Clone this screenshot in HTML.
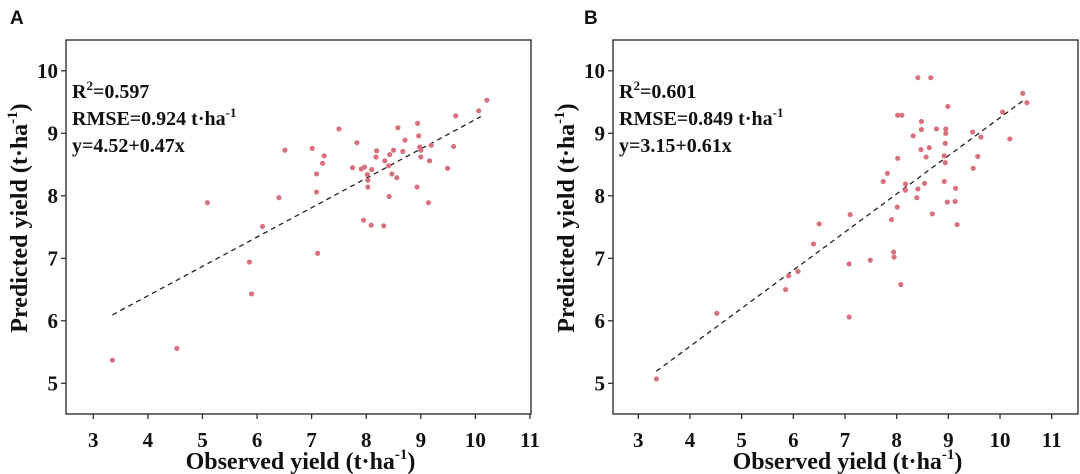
<!DOCTYPE html>
<html><head><meta charset="utf-8"><style>
html,body{margin:0;padding:0;background:#fff;}
svg{display:block;}
text{font-family:"Liberation Serif",serif;font-weight:bold;fill:#111;}
</style></head><body>
<svg id="chart" width="1080" height="474" viewBox="0 0 1080 474" xmlns="http://www.w3.org/2000/svg"></svg>
<script>
const xTicks=[3,4,5,6,7,8,9,10,11];
const yTicks=[5,6,7,8,9,10];
const obsA=[10.21,10.06,9.64,8.94,8.58,7.50,8.96,8.71,7.83,9.19,9.60,8.98,9.0,6.51,7.01,8.19,8.50,8.67,8.43,7.23,8.18,9.0,8.34,9.16,7.20,8.41,7.75,7.97,7.91,8.10,9.49,8.47,7.09,8.02,8.56,8.03,8.03,8.93,7.09,6.40,8.42,5.09,9.14,7.95,8.09,8.32,6.10,7.11,5.86,5.90,4.53,3.35];
const predA=[9.53,9.36,9.28,9.16,9.09,9.07,8.96,8.89,8.85,8.81,8.79,8.78,8.73,8.73,8.76,8.72,8.73,8.71,8.66,8.64,8.62,8.62,8.56,8.56,8.52,8.48,8.45,8.46,8.43,8.42,8.44,8.35,8.35,8.34,8.29,8.25,8.14,8.14,8.06,7.97,7.99,7.89,7.89,7.61,7.53,7.52,7.51,7.08,6.94,6.43,5.56,5.37];
const obsB=[8.41,8.66,10.44,10.52,8.99,10.05,8.02,8.10,8.48,8.77,8.48,8.95,8.95,9.47,8.32,9.63,10.19,8.94,8.47,8.63,8.57,8.02,9.57,8.92,8.94,9.48,7.82,7.74,8.92,8.17,8.54,8.41,9.14,8.17,8.39,8.98,9.13,8.01,7.10,8.69,7.90,6.50,9.17,6.39,7.94,7.95,7.49,7.08,5.91,6.09,5.85,8.08,4.52,7.08,3.35];
const predB=[9.89,9.89,9.64,9.49,9.43,9.34,9.29,9.29,9.19,9.07,9.06,9.07,9.0,9.02,8.96,8.94,8.91,8.84,8.74,8.77,8.62,8.60,8.63,8.64,8.53,8.44,8.36,8.23,8.23,8.19,8.20,8.11,8.12,8.09,7.97,7.90,7.91,7.82,7.70,7.71,7.62,7.55,7.54,7.23,7.10,7.02,6.97,6.91,6.72,6.79,6.50,6.58,6.12,6.06,5.07];
const fitA=[4.52,0.47], fitRangeA=[3.35,10.1];
const fitB=[3.15,0.61], fitRangeB=[3.35,10.5];
const statsA=["0.597","0.924","y=4.52+0.47x"];
const statsB=["0.601","0.849","y=3.15+0.61x"];

const NS="http://www.w3.org/2000/svg";
const svg=document.getElementById('chart');
function mk(tag,attrs,parent,txt){const e=document.createElementNS(NS,tag);for(const k in attrs)e.setAttribute(k,attrs[k]);if(txt!==undefined)e.textContent=txt;(parent||svg).appendChild(e);return e;}

function panel(id,label,L,R,x3,x11,obs,pred,fit,range,stats,labelX,titleX){
  const T=40,B=414;
  const sx=v=>x3+(v-3)*(x11-x3)/8;
  const sy=v=>383.3-(v-5)*62.5;
  const g=mk('g',{});
  
  
  const pl=mk('text',{x:labelX,y:24,'font-size':19,style:'font-family:"Liberation Sans",sans-serif'},g,label);
  
  
  const fr=mk('rect',{x:L,y:T,width:R-L,height:B-T,fill:'none',stroke:'#222','stroke-width':1.3},g);
  
  
  xTicks.forEach(t=>{
    mk('line',{x1:sx(t),x2:sx(t),y1:B,y2:B+5,stroke:'#222','stroke-width':1.2},g);
    const tl=mk('text',{x:sx(t),y:447,'font-size':21,'text-anchor':'middle'},g,String(t));
    
    
  });
  yTicks.forEach(t=>{
    mk('line',{x1:L-5,x2:L,y1:sy(t),y2:sy(t),stroke:'#222','stroke-width':1.2},g);
    const tl=mk('text',{x:L-8,y:sy(t)+7,'font-size':21,'text-anchor':'end'},g,String(t));
    
    
  });
  const xt=mk('text',{x:(L+R)/2+2,y:469,'font-size':24,'text-anchor':'middle'},g);
  xt.innerHTML='Observed yield (t·ha<tspan font-size="15" dy="-10">-1</tspan><tspan dy="10">)</tspan>';
  
  
  const yt=mk('text',{x:0,y:0,'font-size':24,'text-anchor':'middle',transform:`translate(${titleX},218) rotate(-90)`},g);
  yt.innerHTML='Predicted yield (t·ha<tspan font-size="15" dy="-10">-1</tspan><tspan dy="10">)</tspan>';
  
  
  const fl=mk('line',{x1:sx(range[0]),y1:sy(fit[0]+fit[1]*range[0]),x2:sx(range[1]),y2:sy(fit[0]+fit[1]*range[1]),stroke:'#222','stroke-width':1.3,'stroke-dasharray':'5,4'},g);
  
  
  obs.forEach((v,i)=>{
    const c=mk('circle',{cx:sx(v),cy:sy(pred[i]),r:2.6,fill:'#d9707f'},g);
    
    
  });
  const ax=L+6;
  const s1=mk('text',{x:ax,y:98,'font-size':20},g);
  s1.innerHTML='R<tspan font-size="13" dy="-8">2</tspan><tspan dy="8">='+stats[0]+'</tspan>';
  
  
  const s2=mk('text',{x:ax,y:125,'font-size':20},g);
  s2.innerHTML='RMSE='+stats[1]+' t·ha<tspan font-size="13" dy="-8">-1</tspan>';
  
  
  const s3=mk('text',{x:ax,y:152,'font-size':20},g,stats[2]);
  
  
}
panel('a','A',66,531,93.3,530,obsA,predA,fitA,fitRangeA,statsA,10,27);
panel('b','B',613,1078,638.3,1051.7,obsB,predB,fitB,fitRangeB,statsB,584,574);
</script>
</body></html>
